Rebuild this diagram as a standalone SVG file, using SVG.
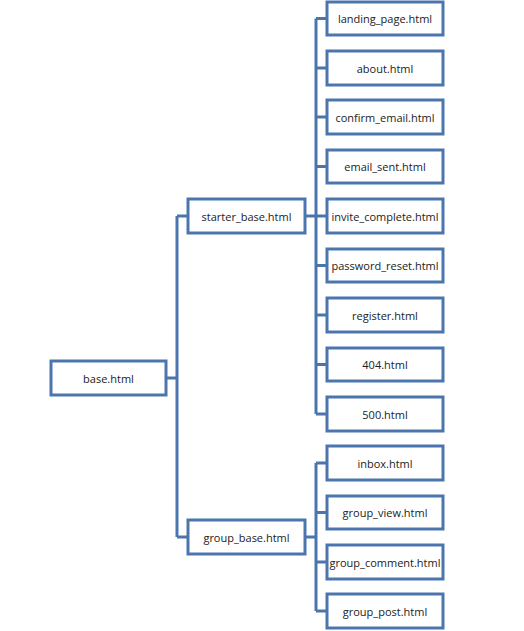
<svg xmlns="http://www.w3.org/2000/svg" width="524" height="631" viewBox="0 0 524 631">
<style>
.box{fill:#fff;stroke:#4a76ad;stroke-width:3}
.c{fill:none;stroke:#4a76ad;stroke-width:3}
text{font-family:"Open Sans","Liberation Sans",sans-serif;font-size:11px;fill:#222;text-anchor:middle;dominant-baseline:central}
</style>
<rect width="524" height="631" fill="#fff"/>
<g id="connectors">
<path class="c" d="M166 378H177M177 216V537M177 216H188M177 537H188"/>
<path class="c" d="M305 216H316M316 18.5V414M316 18.5H327M316 68H327M316 117H327M316 166.5H327M316 216H327M316 265.5H327M316 315H327M316 364.5H327M316 414H327"/>
<path class="c" d="M305 537H316M316 463V611M316 463H327M316 512.5H327M316 562H327M316 611H327"/>
</g>
<g id="base"><rect class="box" x="51" y="361" width="115" height="34"/><text x="108.5" y="378">base.html</text></g>
<g id="starter_base"><rect class="box" x="188" y="199" width="117" height="34"/><text x="246.5" y="216">starter_base.html</text></g>
<g id="group_base"><rect class="box" x="188" y="520" width="117" height="34"/><text x="246.5" y="537">group_base.html</text></g>
<g id="landing_page"><rect class="box" x="327" y="2" width="116" height="33"/><text x="385" y="18.5">landing_page.html</text></g>
<g id="about"><rect class="box" x="327" y="51" width="116" height="34"/><text x="385" y="68">about.html</text></g>
<g id="confirm_email"><rect class="box" x="327" y="100" width="116" height="34"/><text x="385" y="117">confirm_email.html</text></g>
<g id="email_sent"><rect class="box" x="327" y="150" width="116" height="33"/><text x="385" y="166.5">email_sent.html</text></g>
<g id="invite_complete"><rect class="box" x="327" y="199" width="116" height="34"/><text x="385" y="216">invite_complete.html</text></g>
<g id="password_reset"><rect class="box" x="327" y="249" width="116" height="33"/><text x="385" y="265.5">password_reset.html</text></g>
<g id="register"><rect class="box" x="327" y="298" width="116" height="34"/><text x="385" y="315">register.html</text></g>
<g id="p404"><rect class="box" x="327" y="348" width="116" height="33"/><text x="385" y="364.5">404.html</text></g>
<g id="p500"><rect class="box" x="327" y="397" width="116" height="34"/><text x="385" y="414">500.html</text></g>
<g id="inbox"><rect class="box" x="327" y="446" width="116" height="34"/><text x="385" y="463">inbox.html</text></g>
<g id="group_view"><rect class="box" x="327" y="496" width="116" height="33"/><text x="385" y="512.5">group_view.html</text></g>
<g id="group_comment"><rect class="box" x="327" y="545" width="116" height="34"/><text x="385" y="562">group_comment.html</text></g>
<g id="group_post"><rect class="box" x="327" y="594" width="116" height="34"/><text x="385" y="611">group_post.html</text></g>
</svg>
